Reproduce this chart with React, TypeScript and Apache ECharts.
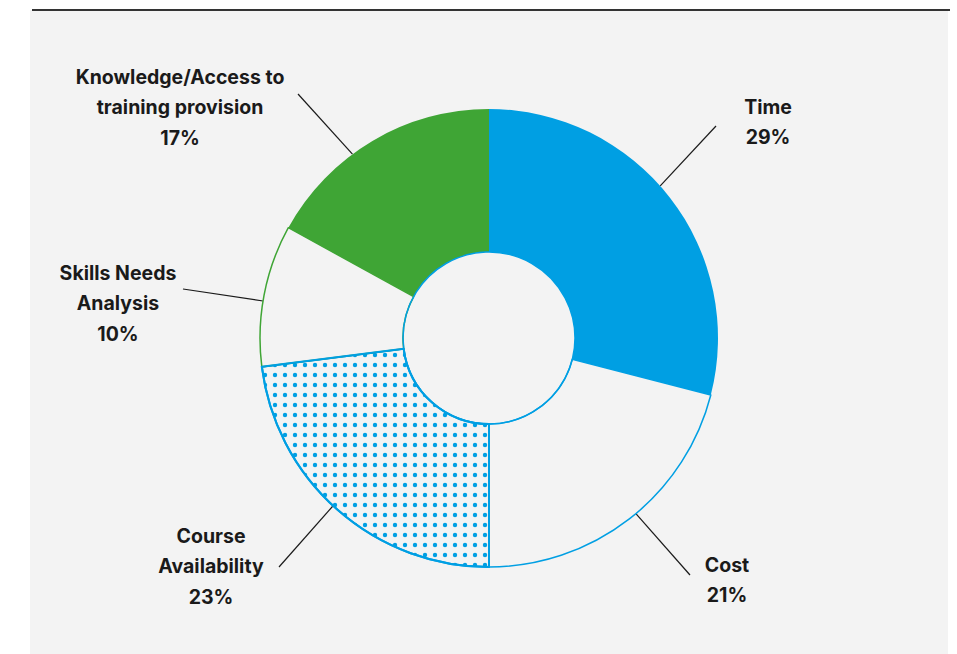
import React, { useEffect, useRef } from "react";
import * as echarts from "echarts";

const categories = [
  "Time",
  "Cost",
  "Course Availability",
  "Skills Needs Analysis",
  "Knowledge/Access to training provision",
];
const labelTexts = [
  "Time",
  "Cost",
  "Course\nAvailability",
  "Skills Needs\nAnalysis",
  "Knowledge/Access to\ntraining provision",
];
const values = [29, 21, 23, 10, 17];

const BLUE = "#009FE3";
const GREEN = "#3FA535";
const BG = "#f3f3f3";
const INK = "#1a1a1a";

const CENTER = [489, 338];
const RADIUS = [86, 229];

// label placement (layout only): label centre, leader start angle (deg clockwise from top), leader end
const LABEL_POS = [
  { x: 768, y: 122, angle: 48.4, end: [716, 126] },
  { x: 727, y: 580, angle: 140.1, end: [690, 575] },
  { x: 211, y: 566, angle: 222.9, end: [279, 567] },
  { x: 118, y: 303, angle: 279.3, end: [183, 289] },
  { x: 180, y: 107, angle: 323.4, end: [298, 94] },
];

function makeDotTile(): HTMLCanvasElement {
  const c = document.createElement("canvas");
  c.width = 10;
  c.height = 10;
  const ctx = c.getContext("2d")!;
  ctx.fillStyle = BG;
  ctx.fillRect(0, 0, 10, 10);
  ctx.fillStyle = BLUE;
  ctx.beginPath();
  ctx.arc(5, 5, 2.2, 0, Math.PI * 2);
  ctx.fill();
  return c;
}

export default function App() {
  const ref = useRef<HTMLDivElement>(null);
  useEffect(() => {
    if (!ref.current) return;
    const chart = echarts.init(ref.current, null, { renderer: "svg" });
    const itemStyles: any[] = [
      { color: BLUE, borderWidth: 0 },
      { color: BG, borderColor: BLUE, borderWidth: 1.5 },
      {
        color: { image: makeDotTile(), repeat: "repeat" },
        borderColor: BLUE,
        borderWidth: 2,
      },
      { color: BG, borderColor: GREEN, borderWidth: 1.5 },
      { color: GREEN, borderWidth: 0 },
    ];
    chart.setOption({
      animation: false,
      backgroundColor: "#ffffff",
      graphic: [
        {
          type: "rect",
          z: -10,
          shape: { x: 30, y: 10, width: 918, height: 644 },
          style: { fill: BG },
        },
        {
          type: "line",
          z: 1,
          shape: { x1: 32, y1: 10, x2: 950, y2: 10 },
          style: { stroke: "#333333", lineWidth: 2 },
        },
        {
          type: "circle",
          z: 100,
          silent: true,
          shape: { cx: CENTER[0], cy: CENTER[1], r: RADIUS[0] },
          style: { fill: "none", stroke: BLUE, lineWidth: 1.5 },
        },
      ],
      series: [
        {
          type: "pie",
          center: CENTER,
          radius: RADIUS,
          startAngle: 90,
          clockwise: true,
          avoidLabelOverlap: false,
          silent: true,
          data: categories.map((name, i) => ({
            name,
            value: values[i],
            itemStyle: itemStyles[i],
          })),
          label: {
            show: true,
            position: "outside",
            formatter: (p: any) => labelTexts[p.dataIndex] + "\n" + p.value + "%",
            fontFamily: "Inter",
            fontWeight: "bold",
            fontSize: 19.5,
            lineHeight: 30.5,
            color: INK,
            align: "center",
          },
          labelLine: {
            show: true,
            length: 40,
            length2: 0,
            lineStyle: { color: INK, width: 1.2 },
          },
          labelLayout: (params: any) => {
            const p = LABEL_POS[params.dataIndex];
            const a = (p.angle * Math.PI) / 180;
            const start = [
              CENTER[0] + RADIUS[1] * Math.sin(a),
              CENTER[1] - RADIUS[1] * Math.cos(a),
            ];
            return {
              x: p.x,
              y: p.y,
              align: "center",
              verticalAlign: "middle",
              labelLinePoints: [start, p.end, p.end],
            };
          },
        },
        {
          type: "pie",
          center: CENTER,
          radius: RADIUS,
          startAngle: 90,
          clockwise: true,
          silent: true,
          z: 3,
          label: { show: false },
          labelLine: { show: false },
          data: categories.map((name, i) => ({
            name,
            value: values[i],
            itemStyle:
              i === 2
                ? { color: "transparent", borderColor: BLUE, borderWidth: 2 }
                : { color: "transparent", borderWidth: 0 },
          })),
        },
      ],
    });
    return () => chart.dispose();
  }, []);
  return (
    <div
      ref={ref}
      style={{ position: "fixed", left: 0, top: 0, width: 957, height: 654 }}
    />
  );
}
